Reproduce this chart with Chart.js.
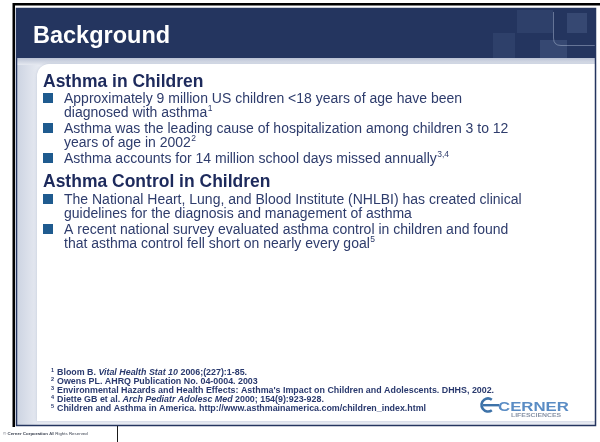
<!DOCTYPE html>
<html>
<head>
<meta charset="utf-8">
<title>Background</title>
<script src="https://cdn.jsdelivr.net/npm/chart.js@4.4.1/dist/chart.umd.min.js"></script>
<style>
  html, body { margin: 0; padding: 0; background: #ffffff; }
  #slide { display: block; }
</style>
</head>
<body>
<canvas id="slide" width="600" height="442"></canvas>
<script>
// slide content
const headerTitle = 'Background';
const sectionTitles = ['Asthma in Children', 'Asthma Control in Children'];

const childBullets = [
  ['Approximately 9 million US children <18 years of age have been', 'diagnosed with asthma'],
  ['Asthma was the leading cause of hospitalization among children 3 to 12', 'years of age in 2002'],
  ['Asthma accounts for 14 million school days missed annually']
];
const childRefs = ['1', '2', '3,4'];

const controlBullets = [
  ['The National Heart, Lung, and Blood Institute (NHLBI) has created clinical', 'guidelines for the diagnosis and management of asthma'],
  ['A recent national survey evaluated asthma control in children and found', 'that asthma control fell short on nearly every goal']
];
const controlRefs = ['', '5'];

// *...* marks italic parts
const footnoteRefs = ['1', '2', '3', '4', '5'];
const footnotes = [
  'Bloom B. *Vital Health Stat 10* 2006;(227):1-85.',
  'Owens PL. AHRQ Publication No. 04-0004. 2003',
  'Environmental Hazards and Health Effects: Asthma\'s Impact on Children and Adolescents. DHHS, 2002.',
  'Diette GB et al. *Arch Pediatr Adolesc Med* 2000; 154(9):923-928.',
  'Children and Asthma in America. http://www.asthmainamerica.com/children_index.html'
];

const footerParts = ['\u00A9 ', 'Cerner Corporation', ' All Rights Reserved'];
const logoWords = ['CERNER', 'LIFESCIENCES'];

const FONT = "'Liberation Sans', Arial, sans-serif";
const NAVY = '#24355f';
const BODY_TEXT = '#2e3c6c';
const HEAD_TEXT = '#1d2a5c';
const BULLET = '#1f5b8f';

// text drawn a little taller than wide, like the condensed slide font
function tallText(ctx, text, x, y, sy) {
  ctx.save();
  ctx.translate(x, y);
  ctx.scale(1, sy);
  ctx.fillText(text, 0, 0);
  ctx.restore();
}

function drawFrame(ctx) {
  // outer black rule
  ctx.fillStyle = '#000000';
  ctx.fillRect(13, 3, 587, 2.5);
  ctx.fillRect(12.5, 3, 2.5, 424);

  // body background
  const bg = ctx.createLinearGradient(17, 0, 40, 0);
  bg.addColorStop(0, '#cdd4e2');
  bg.addColorStop(1, '#e9ecf3');
  ctx.fillStyle = bg;
  ctx.fillRect(17, 58, 578, 367);

  // band under header
  const band = ctx.createLinearGradient(0, 58, 0, 65);
  band.addColorStop(0, '#b9c2d4');
  band.addColorStop(1, '#e6e9f1');
  ctx.fillStyle = band;
  ctx.fillRect(17, 58, 578, 7);

  // white panel
  ctx.save();
  ctx.shadowColor = 'rgba(120,135,165,0.35)';
  ctx.shadowBlur = 3;
  ctx.fillStyle = '#ffffff';
  ctx.beginPath();
  ctx.roundRect(37, 64, 558, 357, [12, 0, 0, 0]);
  ctx.fill();
  ctx.restore();

  // header bar
  ctx.fillStyle = NAVY;
  ctx.fillRect(17, 9, 578, 49);

  // header decoration (faint squares at the right)
  ctx.fillStyle = 'rgba(140,165,205,0.10)';
  ctx.fillRect(517, 10, 36, 23);
  ctx.fillRect(493, 33, 22, 25);
  ctx.fillStyle = 'rgba(150,175,215,0.16)';
  ctx.fillRect(540, 40, 27, 18);
  ctx.fillRect(567, 13, 20, 20);
  ctx.strokeStyle = 'rgba(200,212,232,0.4)';
  ctx.lineWidth = 1;
  ctx.beginPath();
  ctx.moveTo(553.5, 12);
  ctx.lineTo(553.5, 38);
  ctx.quadraticCurveTo(553.5, 45.5, 561, 45.5);
  ctx.lineTo(595, 45.5);
  ctx.stroke();

  // navy frame
  ctx.strokeStyle = NAVY;
  ctx.lineWidth = 1.5;
  ctx.strokeRect(16.5, 8.5, 579, 417);

  // footer divider
  ctx.strokeStyle = '#1a1a1a';
  ctx.lineWidth = 1;
  ctx.beginPath();
  ctx.moveTo(117.5, 426);
  ctx.lineTo(117.5, 442);
  ctx.stroke();
}

function drawBullets(ctx, bullets, refs, firstBaseline) {
  const lineH = 14;
  let y = firstBaseline;
  bullets.forEach((lines, i) => {
    ctx.fillStyle = BULLET;
    ctx.fillRect(43, y - 10, 10, 10);
    lines.forEach((line, j) => {
      ctx.font = '14px ' + FONT;
      ctx.fillStyle = BODY_TEXT;
      tallText(ctx, line, 64, y, 1.1);
      if (j === lines.length - 1 && refs[i]) {
        const w = ctx.measureText(line).width;
        ctx.font = '8.5px ' + FONT;
        ctx.fillText(refs[i], 64 + w + 0.5, y - 6);
      }
      y += lineH;
    });
    y += 2;
  });
}

function drawFootnotes(ctx) {
  const size = 8.9;
  footnotes.forEach((note, i) => {
    const y = 375 + i * 9;
    ctx.fillStyle = '#2a3a6e';
    ctx.font = 'bold 5.5px ' + FONT;
    ctx.fillText(footnoteRefs[i], 51, y - 3);
    let x = 57;
    note.split('*').forEach((part, k) => {
      ctx.font = (k % 2 ? 'italic ' : '') + 'bold ' + size + 'px ' + FONT;
      ctx.fillText(part, x, y);
      x += ctx.measureText(part).width;
    });
  });
}

function drawLogo(ctx) {
  // ring mark
  ctx.strokeStyle = '#3d72a8';
  ctx.lineWidth = 2.6;
  ctx.beginPath();
  ctx.arc(488, 405, 6.5, 0.3 * Math.PI, 1.7 * Math.PI);
  ctx.stroke();
  ctx.fillStyle = '#3d72a8';
  ctx.fillRect(483, 404, 16, 2.4);

  const grad = ctx.createLinearGradient(0, 399, 0, 411);
  grad.addColorStop(0, '#5a8cc4');
  grad.addColorStop(1, '#24569a');
  ctx.save();
  ctx.translate(498, 410.5);
  ctx.scale(1.4, 1);
  ctx.font = 'bold 12px ' + FONT;
  ctx.fillStyle = grad;
  ctx.fillText(logoWords[0], 0, 0);
  ctx.restore();

  ctx.save();
  ctx.translate(511, 417);
  ctx.scale(1.5, 1);
  ctx.font = 'bold 4.6px ' + FONT;
  ctx.fillStyle = '#8a95a8';
  ctx.fillText(logoWords[1], 0, 0);
  ctx.restore();
}

function drawFooter(ctx) {
  let x = 3;
  footerParts.forEach((part, i) => {
    ctx.font = (i === 1 ? 'bold ' : '') + '4.4px ' + FONT;
    ctx.fillStyle = '#3a4150';
    ctx.fillText(part, x, 435);
    x += ctx.measureText(part).width;
  });
}

const slidePlugin = {
  id: 'slide',
  beforeDraw(chart) {
    const ctx = chart.ctx;
    ctx.save();
    ctx.textBaseline = 'alphabetic';
    ctx.textAlign = 'left';
    drawFrame(ctx);

    ctx.fillStyle = '#ffffff';
    ctx.font = 'bold 23.5px ' + FONT;
    ctx.fillText(headerTitle, 33, 43);

    ctx.fillStyle = HEAD_TEXT;
    ctx.font = 'bold 17.5px ' + FONT;
    tallText(ctx, sectionTitles[0], 43, 86.5, 1.05);
    drawBullets(ctx, childBullets, childRefs, 103);

    ctx.fillStyle = HEAD_TEXT;
    ctx.font = 'bold 17.5px ' + FONT;
    tallText(ctx, sectionTitles[1], 43, 186.5, 1.05);
    drawBullets(ctx, controlBullets, controlRefs, 204);

    drawFootnotes(ctx);
    drawLogo(ctx);
    drawFooter(ctx);
    ctx.restore();
  }
};

new Chart(document.getElementById('slide').getContext('2d'), {
  type: 'bar',
  data: { labels: [], datasets: [] },
  options: {
    responsive: false,
    animation: false,
    events: [],
    layout: { padding: 0 },
    plugins: { legend: { display: false }, tooltip: { enabled: false }, title: { display: false } },
    scales: { x: { display: false }, y: { display: false } }
  },
  plugins: [slidePlugin]
});
</script>
</body>
</html>
